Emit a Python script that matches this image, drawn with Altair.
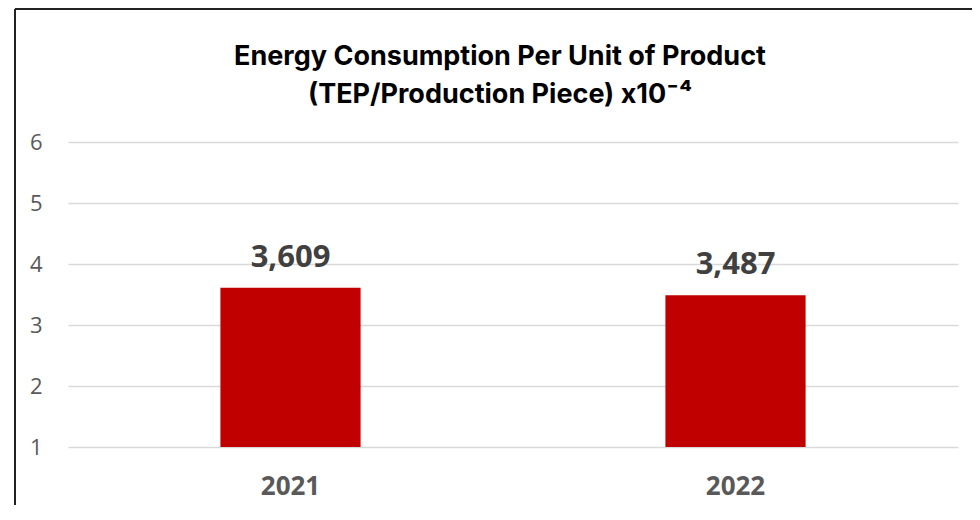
import altair as alt
import pandas as pd

years = ["2021", "2022"]
values = [3.609, 3.487]
y_ticks = [1, 2, 3, 4, 5, 6]
title_lines = ["Energy Consumption Per Unit of Product",
               "(TEP/Production Piece) x10\u207b\u2074"]

labels = [f"{v:.3f}".replace(".", ",") for v in values]
df = pd.DataFrame({"year": years, "value": values, "label": labels})
one = pd.DataFrame({"k": [0]})

W, H = 890, 305

base = alt.Chart(df).encode(
    x=alt.X("year:N", sort=years, title=None,
            scale=alt.Scale(paddingInner=0.685, paddingOuter=0.3425),
            axis=alt.Axis(labelAngle=0, labelFont="Open Sans", labelFontSize=26,
                          labelFontWeight="bold", labelColor="#595959",
                          labelPadding=26, ticks=False, domain=False, grid=False)),
)

bars = base.mark_bar(color="#C00000").encode(
    y=alt.Y("value:Q", title=None,
            scale=alt.Scale(domain=[1, 6], zero=False, nice=False),
            axis=alt.Axis(values=y_ticks, format="d", labelFont="Open Sans",
                          labelFontSize=22, labelColor="#595959", labelPadding=26,
                          ticks=False, domain=False, grid=True,
                          gridColor="#d9d9d9", gridWidth=1.5)),
    y2=alt.datum(1),
)

text = base.mark_text(font="Open Sans", fontSize=31, fontWeight="bold",
                      color="#404040", baseline="alphabetic", dy=-21).encode(
    y=alt.Y("value:Q"),
    text="label:N",
)

title = alt.Chart(one).mark_text(
    text=title_lines, font="Inter", fontSize=27, fontWeight="bold",
    color="#000000", lineHeight=38, baseline="middle", align="center",
).encode(x=alt.value(432), y=alt.value(-85))

border_left = alt.Chart(one).mark_rule(color="#222222", strokeWidth=2).encode(
    x=alt.value(-53), y=alt.value(-133), y2=alt.value(H + 80)
)
border_top = alt.Chart(one).mark_rule(color="#222222", strokeWidth=2).encode(
    x=alt.value(-53), x2=alt.value(W + 40), y=alt.value(-133)
)

chart = alt.layer(bars, text, title, border_left, border_top).properties(
    width=W, height=H,
    autosize=alt.AutoSizeParams(type="none"),
    padding={"left": 60, "top": 134, "right": 14, "bottom": 58},
).configure_view(stroke=None)

chart.save("out.html", embed_options={"renderer": "svg", "actions": False})
